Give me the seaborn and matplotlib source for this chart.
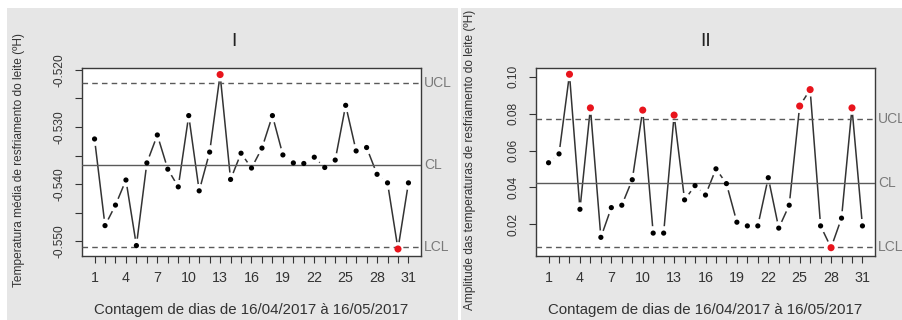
import numpy as np
import pandas as pd
import matplotlib
matplotlib.use("Agg")
import matplotlib.pyplot as plt
import matplotlib.transforms as mtransforms
from matplotlib.patches import Rectangle
import seaborn as sns

# ---------------- data ----------------
days = list(range(1, 32))
temp_mean = [-0.5321, -0.5473, -0.5437, -0.5393, -0.5508, -0.5363, -0.5314, -0.5374,
             -0.5405, -0.5280, -0.5412, -0.5344, -0.5208, -0.5392, -0.5346, -0.5372,
             -0.5337, -0.5280, -0.5349, -0.5363, -0.5364, -0.5353, -0.5371, -0.5358,
             -0.5262, -0.5342, -0.5336, -0.5383, -0.5398, -0.5514, -0.5398]
amplitude = [0.0534, 0.0582, 0.1013, 0.0282, 0.0831, 0.0130, 0.0291, 0.0304,
             0.0442, 0.0819, 0.0153, 0.0153, 0.0792, 0.0333, 0.0410, 0.0359,
             0.0501, 0.0421, 0.0212, 0.0192, 0.0192, 0.0453, 0.0180, 0.0304,
             0.0841, 0.0930, 0.0192, 0.0074, 0.0234, 0.0831, 0.0192]
limits_I = {"UCL": -0.5222, "CL": -0.5366, "LCL": -0.5510}
limits_II = {"UCL": 0.0771, "CL": 0.0424, "LCL": 0.0076}
titles = ["I", "II"]
ylabels = ["Temperatura média de resfriamento do leite (ºH)",
           "Amplitude das temperaturas de resfriamento do leite (ºH)"]
xlabel = "Contagem de dias de 16/04/2017 à 16/05/2017"
xtick_labels = [1, 4, 7, 10, 13, 16, 19, 22, 25, 28, 31]
yticks_I = [-0.550, -0.545, -0.540, -0.535, -0.530, -0.525, -0.520]
ytick_labels_I = ["-0.550", "", "-0.540", "", "-0.530", "", "-0.520"]
yticks_II = [0.02, 0.04, 0.06, 0.08, 0.10]
ytick_labels_II = ["0.02", "0.04", "0.06", "0.08", "0.10"]

# ---------------- style ----------------
sns.set_style("white")
plt.rcParams["font.family"] = ["Liberation Sans", "DejaVu Sans"]
plt.rcParams["axes.unicode_minus"] = False

W, H = 903, 320
fig = plt.figure(figsize=(W / 100, H / 100), dpi=100, facecolor="white")

GRAY = "#e6e6e6"
fig.patches.append(Rectangle((7 / W, 0), (458 - 7) / W, (H - 8) / H,
                             transform=fig.transFigure, facecolor=GRAY,
                             edgecolor="none", zorder=-5))
fig.patches.append(Rectangle((461 / W, 0), (W - 461) / W, (H - 8) / H,
                             transform=fig.transFigure, facecolor=GRAY,
                             edgecolor="none", zorder=-5))

TXT = "#333333"
LIM = "#5a5a5a"

panels = [
    dict(left=82, vals=temp_mean, lim=limits_I, ylim=(-0.55263, -0.51965),
         yt=yticks_I, ytl=ytick_labels_I, title_x=234, ylab_x=19),
    dict(left=536, vals=amplitude, lim=limits_II, ylim=(0.0029, 0.1047),
         yt=yticks_II, ytl=ytick_labels_II, title_x=706, ylab_x=470),
]

for i, p in enumerate(panels):
    ax = fig.add_axes([p["left"] / W, (H - 256) / H, 339 / W, 188 / H])
    ax.set_facecolor("white")
    df = pd.DataFrame({"day": days, "value": p["vals"]})
    lim = p["lim"]
    df["status"] = np.where((df["value"] > lim["UCL"]) | (df["value"] < lim["LCL"]),
                            "out", "in")

    sns.lineplot(data=df, x="day", y="value", ax=ax, color="#333333",
                 linewidth=1.1, zorder=2, estimator=None)
    # white halos give the gaps of an R type="b" plot
    sns.scatterplot(data=df, x="day", y="value", ax=ax, color="white", s=100,
                    edgecolor="none", zorder=2.5, legend=False)
    ax.axhline(lim["CL"], color=LIM, lw=1.0, zorder=3)
    for k in ("UCL", "LCL"):
        ax.axhline(lim[k], color=LIM, lw=1.0, ls=(0, (4, 3)), zorder=3)
    sns.scatterplot(data=df, x="day", y="value", hue="status", ax=ax,
                    palette={"in": "black", "out": "#e8141c"},
                    size="status", sizes={"in": 14, "out": 26},
                    edgecolor="none", zorder=4, legend=False)

    trans = mtransforms.blended_transform_factory(ax.transAxes, ax.transData)
    for k in ("UCL", "CL", "LCL"):
        ax.text(1.009, lim[k], k, transform=trans, ha="left", va="center",
                color="#7a7a7a", fontsize=10, clip_on=False)

    ax.set_xlim(-0.2, 32.2)
    ax.set_ylim(*p["ylim"])
    ax.set_xticks(days)
    ax.set_xticklabels([str(d) if d in xtick_labels else "" for d in days])
    ax.set_yticks(p["yt"])
    ax.set_yticklabels(p["ytl"])
    ax.tick_params(axis="both", which="major", direction="out", length=5,
                   width=0.8, color=TXT, labelcolor=TXT, bottom=True, left=True)
    ax.tick_params(axis="x", labelsize=10.3, pad=6)
    ax.tick_params(axis="y", labelsize=8.6, pad=7)
    for lab in ax.get_yticklabels():
        lab.set_rotation(90)
        lab.set_va("center")
    ax.set_xlabel("")
    ax.set_ylabel("")
    for s in ax.spines.values():
        s.set_visible(True)
        s.set_color("#3a3a3a")
        s.set_linewidth(1.0)

    fig.text(p["title_x"] / W, (H - 42) / H, titles[i], ha="center", va="center",
             fontsize=14, color="#222222")
    fig.text(p["ylab_x"] / W, (H - 160) / H, ylabels[i], rotation=90,
             ha="center", va="center", fontsize=8.6, color=TXT)
    cx = (p["left"] + 339 / 2) / W
    fig.text(cx, (H - 314) / H, xlabel, ha="center", va="baseline",
             fontsize=10.8, color=TXT)

fig.savefig("out.png", dpi=100, facecolor="white")
